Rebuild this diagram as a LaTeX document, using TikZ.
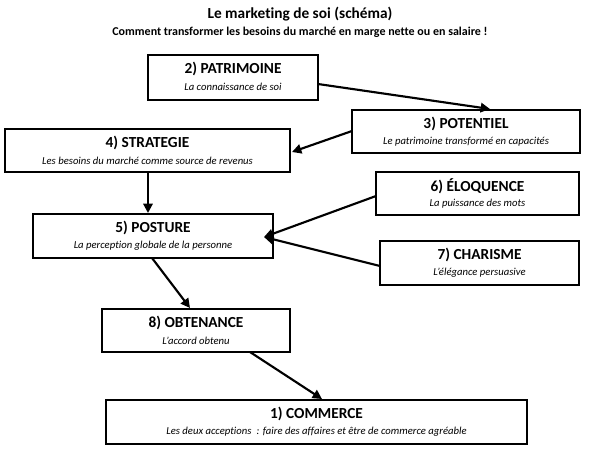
\documentclass[tikz,border=0pt]{standalone}
\usepackage{fontspec}
\setmainfont[Ligatures={NoCommon}]{Carlito}
\usetikzlibrary{arrows.meta}
\begin{document}
\begin{tikzpicture}[x=0.75pt,y=-0.75pt,
  box/.style={draw,line width=1pt,inner sep=0pt},
  ttl/.style={font=\bfseries\fontsize{11.5}{13}\selectfont},
  sub/.style={font=\itshape\fontsize{8}{9}\selectfont},
  conn/.style={line width=1.6pt,-{Triangle[length=7pt,width=7pt]}}]
\useasboundingbox (0,0) rectangle (600,450);
\node[font=\bfseries\fontsize{11.5}{13}\selectfont] (t1) at (300,14) {Le marketing de soi (schéma)};
\node[font=\bfseries\fontsize{9}{10}\selectfont] (t2) at (300,32) {Comment transformer les besoins du marché en marge nette ou en salaire !};
\newcommand{\bx}[7]{%
  \draw[line width=1pt] (#2,#3) rectangle (#4,#5);
  \node[box,draw=none,minimum width=0pt] (#1) at ({(#2+#4)/2},{(#3+#5)/2}) {};
  \node[ttl] (#1t) at ({(#2+#4)/2},{#3+14}) {#6};
  \node[sub] (#1s) at ({(#2+#4)/2},{#3+32}) {#7};}
\bx{pat}{148}{55}{318}{100}{2) PATRIMOINE}{La connaissance de soi}
\bx{pot}{352}{110}{580}{153}{3) POTENTIEL}{Le patrimoine transformé en capacités}
\bx{str}{5}{129}{290}{172}{4) STRATEGIE}{Les besoins du marché comme source de revenus}
\bx{elo}{376}{172}{579}{215}{6) ÉLOQUENCE}{La puissance des mots}
\bx{pos}{33}{214}{273}{258}{5) POSTURE}{La perception globale de la personne}
\bx{cha}{380}{241}{579}{285}{7) CHARISME}{L’élégance persuasive}
\bx{obt}{102}{309}{290}{352}{8) OBTENANCE}{L’accord obtenu}
\bx{com}{106}{400}{527}{444}{1) COMMERCE}{Les deux acceptions\enspace: faire des affaires et être de commerce agréable}
\coordinate (a1) at (318,84); \coordinate (b1) at (490,109);
\coordinate (a2) at (352,131); \coordinate (b2) at (292,152);
\coordinate (a3) at (148,172); \coordinate (b3) at (148,213);
\coordinate (a4) at (376,196); \coordinate (b4) at (264,237);
\coordinate (a5) at (380,266); \coordinate (b5) at (264,237);
\coordinate (a6) at (152,258); \coordinate (b6) at (190,308);
\coordinate (a7) at (250,352); \coordinate (b7) at (322,399);
\foreach \i in {1,...,7} \draw[conn] (a\i) -- (b\i);
\end{tikzpicture}
\end{document}
